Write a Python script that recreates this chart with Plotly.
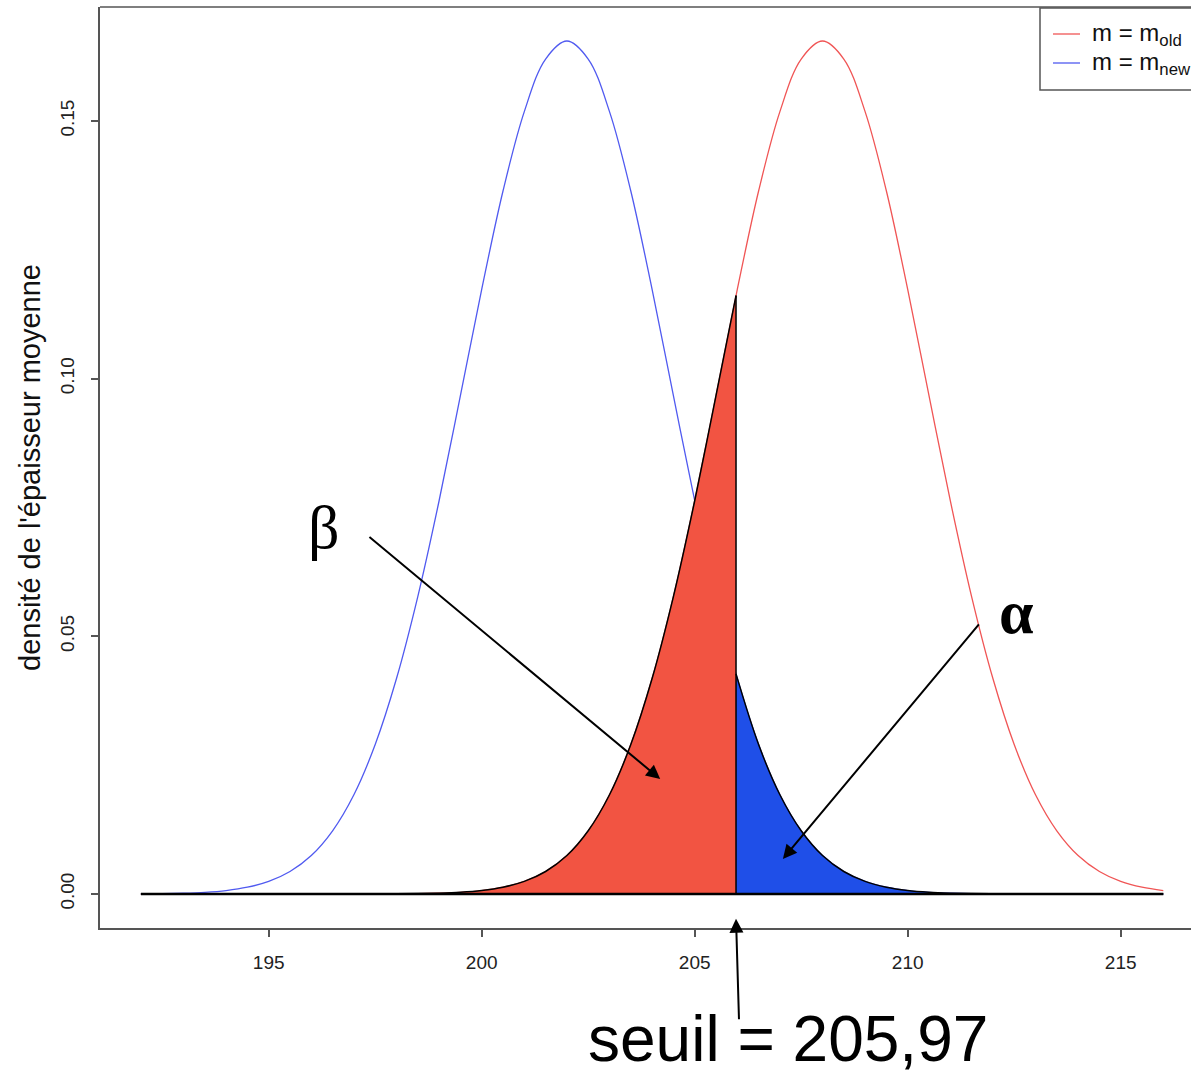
import plotly.graph_objects as go

# ---- data ----
x_vals = [192.0, 192.5, 193.0, 193.5, 194.0, 194.5, 195.0, 195.5, 196.0, 196.5,
          197.0, 197.5, 198.0, 198.5, 199.0, 199.5, 200.0, 200.5, 201.0, 201.5,
          202.0, 202.5, 203.0, 203.5, 204.0, 204.5, 205.0, 205.5, 206.0, 206.5,
          207.0, 207.5, 208.0, 208.5, 209.0, 209.5, 210.0, 210.5, 211.0, 211.5,
          212.0, 212.5, 213.0, 213.5, 214.0, 214.5, 215.0, 215.5, 216.0]
dens_new = [0.00003, 0.00007, 0.00016, 0.00033, 0.00067, 0.00131, 0.00244, 0.00436,
            0.00746, 0.01226, 0.01925, 0.0290, 0.0418, 0.0577, 0.0763, 0.0967,
            0.1173, 0.1364, 0.1518, 0.1620, 0.1655, 0.1620, 0.1518, 0.1364,
            0.1173, 0.0967, 0.0763, 0.0577, 0.0418, 0.0290, 0.01925, 0.01226,
            0.00746, 0.00436, 0.00244, 0.00131, 0.00067, 0.00033, 0.00016, 0.00007,
            0.00003, 0.00001, 0.0, 0.0, 0.0, 0.0, 0.0, 0.0, 0.0]
dens_old = [0.0, 0.0, 0.0, 0.0, 0.0, 0.0, 0.0, 0.0, 0.0, 0.0, 0.0, 0.00001,
            0.00003, 0.00007, 0.00016, 0.00033, 0.00067, 0.00131, 0.00244, 0.00436,
            0.00746, 0.01226, 0.01925, 0.0290, 0.0418, 0.0577, 0.0763, 0.0967,
            0.1173, 0.1364, 0.1518, 0.1620, 0.1655, 0.1620, 0.1518, 0.1364,
            0.1173, 0.0967, 0.0763, 0.0577, 0.0418, 0.0290, 0.01925, 0.01226,
            0.00746, 0.00436, 0.00244, 0.00131, 0.00067]
seuil = 205.97
old_at_seuil = 0.1161
new_at_seuil = 0.0427
legend_labels = ["m = m<sub>old</sub>", "m = m<sub>new</sub>"]
y_ticks = [0.0, 0.05, 0.10, 0.15]
x_ticks = [195, 200, 205, 210, 215]

RED_LINE = "rgb(240,85,85)"
BLUE_LINE = "rgb(80,90,240)"
RED_FILL = "#F25442"
BLUE_FILL = "#1F4FE8"
AX = "#555555"
SANS = "Liberation Sans, Arial, sans-serif"
SERIF = "Liberation Serif, Times New Roman, serif"

fig = go.Figure()

# full density curves
fig.add_trace(go.Scatter(x=x_vals, y=dens_new, mode="lines", line=dict(color=BLUE_LINE, width=1.3, shape="spline"),
                         showlegend=False, hoverinfo="skip"))
fig.add_trace(go.Scatter(x=x_vals, y=dens_old, mode="lines", line=dict(color=RED_LINE, width=1.3, shape="spline"),
                         showlegend=False, hoverinfo="skip"))

# beta region: under m_old curve, left of seuil
bx = [x for x in x_vals if x < seuil - 0.2] + [seuil]
by = [y for x, y in zip(x_vals, dens_old) if x < seuil - 0.2] + [old_at_seuil]
fig.add_trace(go.Scatter(x=bx, y=by, mode="lines", fill="tozeroy", fillcolor=RED_FILL,
                         line=dict(color="black", width=1.5, shape="spline"), showlegend=False, hoverinfo="skip"))
# alpha region: under m_new curve, right of seuil
ax_ = [seuil] + [x for x in x_vals if x > seuil + 0.2]
ay_ = [new_at_seuil] + [y for x, y in zip(x_vals, dens_new) if x > seuil + 0.2]
fig.add_trace(go.Scatter(x=ax_, y=ay_, mode="lines", fill="tozeroy", fillcolor=BLUE_FILL,
                         line=dict(color="black", width=1.5, shape="spline"), showlegend=False, hoverinfo="skip"))
# seuil vertical line and baseline
fig.add_trace(go.Scatter(x=[seuil, seuil], y=[0, old_at_seuil], mode="lines",
                         line=dict(color="black", width=1.5), showlegend=False, hoverinfo="skip"))
fig.add_trace(go.Scatter(x=[x_vals[0], x_vals[-1]], y=[0, 0], mode="lines",
                         line=dict(color="black", width=2.5), showlegend=False, hoverinfo="skip"))

W, H = 1191, 1075
L, R, T, B = 100, 0, 7, 147
plot_w = W - L - R
px_per_unit = 42.6
x0 = 191.04
x1 = x0 + plot_w / px_per_unit

fig.update_layout(
    width=W, height=H,
    margin=dict(l=L, r=R, t=T, b=B),
    paper_bgcolor="white", plot_bgcolor="white",
    font=dict(family=SANS, color="#222222"),
    showlegend=False,
)
fig.update_xaxes(range=[x0, x1], showgrid=False, zeroline=False,
                 showline=True, linecolor=AX, linewidth=1.5,
                 ticks="outside", ticklen=7, tickwidth=1.5, tickcolor=AX,
                 tickvals=x_ticks, tickfont=dict(size=19, family=SANS, color="#222"),
                 ticklabelstandoff=9)
fig.update_yaxes(range=[-0.0066, 0.1721], showgrid=False, zeroline=False,
                 showline=True, linecolor=AX, linewidth=1.5,
                 ticks="outside", ticklen=7, tickwidth=1.5, tickcolor=AX,
                 tickvals=y_ticks, tickformat=".2f", tickangle=-90,
                 tickfont=dict(size=19, family=SANS, color="#222"),
                 ticklabelstandoff=10)

shapes = []
# top border of box
shapes.append(dict(type="line", xref="paper", yref="paper", x0=0, x1=1.05, y0=1, y1=1,
                   line=dict(color=AX, width=1.5)))

def px2paper_x(p):
    return (p - L) / plot_w

def px2paper_y(p):
    return (H - B - p) / (H - B - T)

# legend box
shapes.append(dict(type="rect", xref="paper", yref="paper",
                   x0=px2paper_x(1040), x1=px2paper_x(1210), y0=px2paper_y(90), y1=px2paper_y(8),
                   line=dict(color=AX, width=1.5), fillcolor="white"))
leg_colors = [RED_LINE, BLUE_LINE]
leg_y = [34, 63]
annotations = []
for lab, col, yy in zip(legend_labels, leg_colors, leg_y):
    shapes.append(dict(type="line", xref="paper", yref="paper",
                       x0=px2paper_x(1053), x1=px2paper_x(1080), y0=px2paper_y(yy), y1=px2paper_y(yy),
                       line=dict(color=col, width=1.3)))
    annotations.append(dict(xref="paper", yref="paper", x=px2paper_x(1090), y=px2paper_y(yy),
                            xanchor="left", yanchor="middle", text=lab, showarrow=False,
                            font=dict(size=24, family=SANS, color="#111")))

# y axis title
annotations.append(dict(xref="paper", yref="paper", x=px2paper_x(30), y=px2paper_y(468),
                        xanchor="center", yanchor="middle", textangle=-90, showarrow=False,
                        text="densité de l'épaisseur moyenne", font=dict(size=29, family=SANS, color="#111")))

# beta / alpha labels and arrows
annotations.append(dict(x=196.3, y=0.0712, xref="x", yref="y", text="β", showarrow=False,
                        font=dict(size=62, family=SERIF, color="black")))
annotations.append(dict(x=212.55, y=0.0548, xref="x", yref="y", text="<b>α</b>", showarrow=False,
                        font=dict(size=62, family=SERIF, color="black")))
annotations.append(dict(x=204.19, y=0.0223, ax=197.33, ay=0.0695, xref="x", yref="y", axref="x", ayref="y",
                        text="", showarrow=True, arrowhead=2, arrowsize=1.4, arrowwidth=2, arrowcolor="black"))
annotations.append(dict(x=207.07, y=0.0068, ax=211.70, ay=0.0526, xref="x", yref="y", axref="x", ayref="y",
                        text="", showarrow=True, arrowhead=2, arrowsize=1.4, arrowwidth=2, arrowcolor="black"))
# seuil arrow & label
annotations.append(dict(x=seuil, y=-0.0048, xref="x", yref="y", ax=3, ay=102,
                        text="", showarrow=True, arrowhead=2, arrowsize=1.4, arrowwidth=2, arrowcolor="black"))
annotations.append(dict(xref="paper", yref="paper", x=px2paper_x(788), y=px2paper_y(1039),
                        xanchor="center", yanchor="middle", showarrow=False,
                        text="seuil = 205,97", font=dict(size=64, family=SANS, color="black")))

fig.update_layout(shapes=shapes, annotations=annotations)
fig.write_html("out.html")
